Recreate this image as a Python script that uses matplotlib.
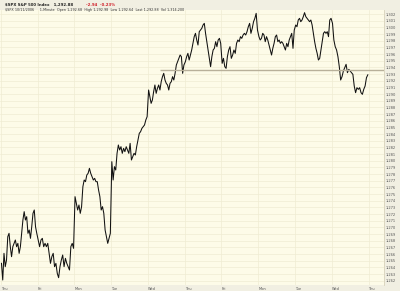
import matplotlib
matplotlib.use('Agg')
import matplotlib.pyplot as plt
import numpy as np

# 1-minute $SPX closes, one list per trading day
day_names = ['Thu', 'Fri', 'Mon', 'Tue', 'Wed', 'Thu', 'Fri', 'Mon', 'Tue', 'Wed', 'Thu']
day_prices = [
    [1264.6, 1262.1, 1266.1, 1264.1, 1265.1, 1268.6, 1269.1, 1267.1, 1265.6, 1267.1,
     1267.6, 1268.1, 1267.1, 1267.6, 1266.1, 1267.1, 1269.1, 1271.1, 1272.35, 1271.1,
     1271.6, 1269.1, 1269.6, 1268.35, 1270.1, 1272.1, 1272.6, 1270.1, 1269.1],
    [1268.1, 1267.1, 1268.1, 1268.35, 1267.1, 1267.6, 1267.1, 1267.6, 1266.1, 1264.6,
     1265.6, 1266.1, 1264.1, 1264.6, 1263.1, 1262.45, 1264.1, 1265.1, 1265.85, 1264.1,
     1265.35, 1264.6, 1264.1, 1263.6, 1267.1, 1267.6, 1266.85],
    [1274.6, 1273.6, 1272.6, 1273.35, 1272.1, 1273.1, 1276.1, 1277.1, 1276.85, 1277.85,
     1278.1, 1278.85, 1278.1, 1277.6, 1277.1, 1277.35, 1276.85, 1276.85, 1275.6, 1274.6,
     1272.6, 1273.1, 1272.1, 1269.6, 1268.6, 1267.6, 1268.35, 1269.1],
    [1279.85, 1277.1, 1279.1, 1278.6, 1281.1, 1282.35, 1281.6, 1282.1, 1281.1, 1281.85,
     1281.35, 1282.1, 1281.6, 1281.1, 1282.6, 1280.1, 1280.6, 1281.1, 1280.85, 1282.1,
     1283.1, 1284.1, 1284.35, 1284.85, 1285.1, 1285.35, 1286.1, 1286.6],
    [1290.6, 1289.6, 1288.6, 1289.1, 1290.35, 1291.35, 1290.1, 1290.85, 1291.35, 1290.6,
     1291.85, 1292.6, 1293.1, 1292.1, 1291.6, 1291.35, 1290.6, 1291.6, 1291.85, 1292.6,
     1292.1, 1293.1, 1294.35, 1294.85, 1295.35, 1295.85, 1295.6, 1293.1, 1294.35],
    [1294.85, 1295.6, 1296.1, 1295.1, 1295.85, 1296.6, 1297.6, 1298.6, 1299.1, 1298.1,
     1297.35, 1299.35, 1299.6, 1299.85, 1300.35, 1300.6, 1299.1, 1297.85, 1296.6, 1295.35,
     1294.1, 1295.6, 1296.6, 1296.85, 1297.85, 1297.1, 1298.1, 1298.35, 1297.6],
    [1294.6, 1295.35, 1294.1, 1293.85, 1295.6, 1296.6, 1297.1, 1295.35, 1295.85, 1296.6,
     1296.1, 1297.6, 1298.1, 1297.85, 1298.6, 1298.35, 1298.85, 1299.1, 1298.85, 1299.35,
     1300.1, 1300.6, 1299.1, 1299.85, 1300.85, 1301.35, 1302.1, 1299.6],
    [1298.6, 1298.1, 1298.35, 1299.1, 1298.85, 1297.85, 1298.6, 1298.1, 1297.35, 1296.6,
     1295.85, 1296.85, 1297.6, 1298.6, 1298.85, 1297.85, 1298.1, 1297.6, 1297.85, 1297.6,
     1297.1, 1296.6, 1297.6, 1297.1, 1298.1, 1298.6, 1299.1, 1296.85, 1299.6],
    [1300.35, 1300.1, 1301.1, 1301.35, 1300.85, 1301.1, 1301.6, 1302.2, 1301.6, 1301.35,
     1301.1, 1300.85, 1301.1, 1300.35, 1299.1, 1297.85, 1296.85, 1296.1, 1295.1, 1295.35,
     1296.6, 1297.85, 1299.1, 1299.35, 1299.1, 1299.35, 1298.6, 1301.1, 1301.35],
    [1300.6, 1298.1, 1297.1, 1296.6, 1295.6, 1294.1, 1292.1, 1292.6, 1293.45, 1293.95,
     1294.45, 1293.2, 1293.7, 1293.45, 1293.2, 1292.95, 1291.2, 1290.2, 1290.95, 1290.7,
     1290.95, 1290.2, 1289.95, 1290.7, 1291.2, 1292.45, 1292.88],
]
support_level = 1293.6
support_start_day = 4.33

last_price = '1,292.88'
change = '-2.94  -0.23%'

# spread each day's readings across that session
t = np.concatenate([np.linspace(d + 0.02, d + 0.98, len(p)) for d, p in enumerate(day_prices)])
price = np.concatenate(day_prices)

bg = '#fdfbe8'
grid_c = '#f0ecd3'

fig = plt.figure(figsize=(4, 2.91), dpi=100, facecolor='#f1efe2')
ax = fig.add_axes([0.0, 0.0206, 0.96, 0.945])
ax.set_facecolor(bg)

ax.plot(t, price, color='#111111', lw=0.75)
ax.hlines(support_level, support_start_day, 10.45, color='#b8b09a', lw=1.0)

ax.set_xlim(-0.02, 10.42)
ax.set_ylim(1261.35, 1302.6)

ax.yaxis.tick_right()
yt = np.arange(1262, 1303)
ax.set_yticks(yt)
ax.set_yticklabels([f'{v:,}' for v in yt], fontsize=2.6, color='#555555')
ax.set_xticks(np.arange(len(day_names)))
ax.set_xticklabels(day_names, fontsize=2.6, color='#555555', ha='left')
ax.tick_params(length=0, pad=1.2)
ax.grid(True, color=grid_c, lw=0.5)
ax.set_axisbelow(True)
for s in ['top', 'left', 'bottom']:
    ax.spines[s].set_visible(False)
ax.spines['right'].set_color('#d8d3bb')
ax.spines['right'].set_linewidth(0.6)

fig.text(0.012, 0.99, '$SPX S&P 500 Index   ' + last_price, fontsize=2.8, fontweight='bold',
         va='top', color='#222222')
fig.text(0.215, 0.99, change, fontsize=2.8, fontweight='bold', va='top', color='#d0202a')
fig.text(0.012, 0.972, '$SPX 10/11/2006     1-Minute  Open 1,292.68  High 1,292.98  Low 1,292.64  '
         'Last 1,292.88  Vol 1,314,200', fontsize=2.4, va='top', color='#333333')

fig.savefig('out.png', dpi=100, facecolor=fig.get_facecolor())
